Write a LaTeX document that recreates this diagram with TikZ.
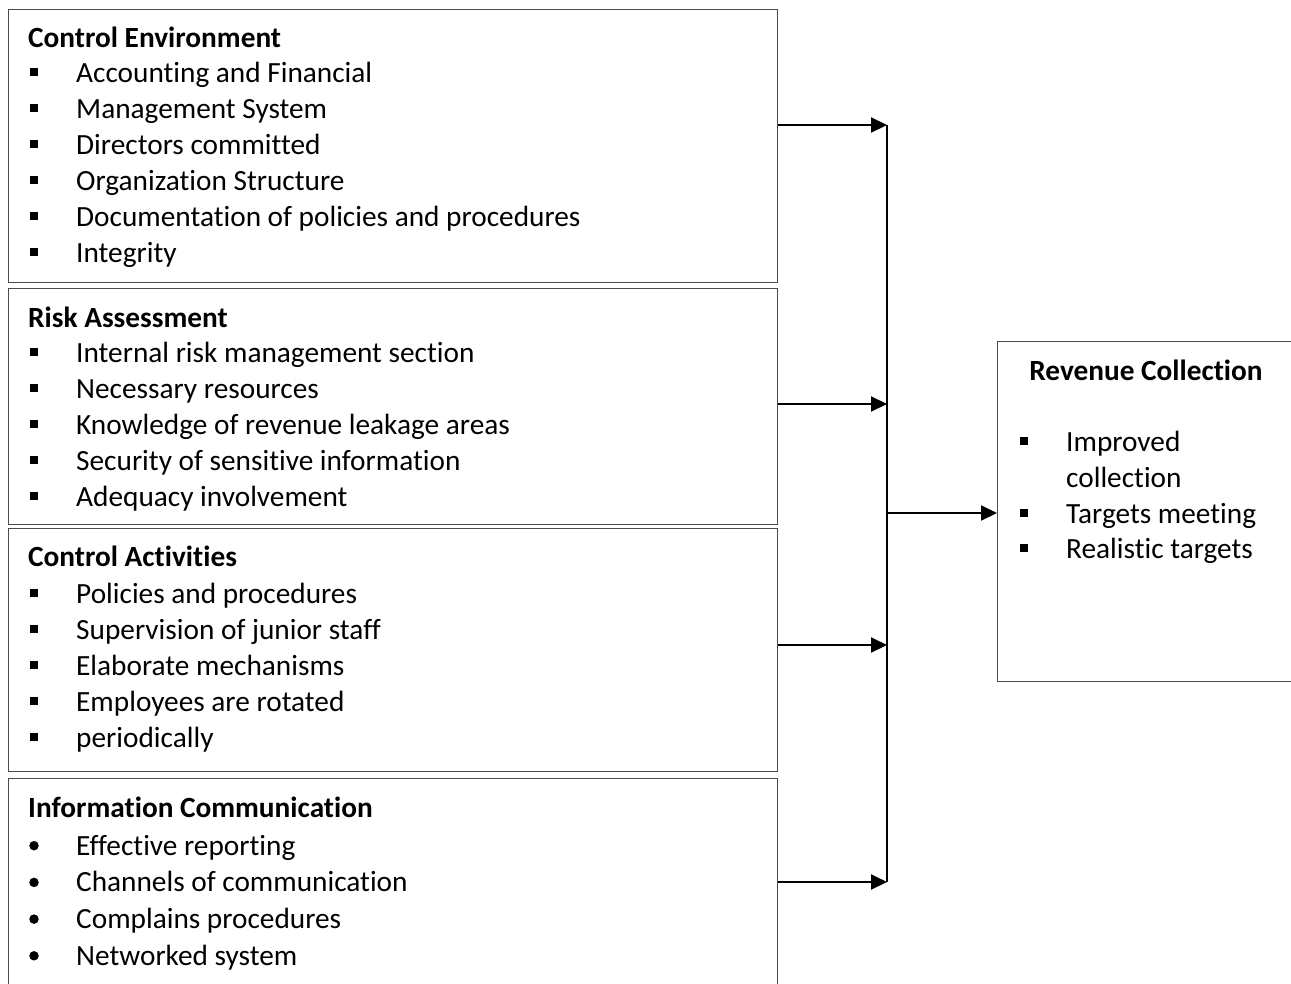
\documentclass[tikz,border=0pt]{standalone}
\usepackage{fontspec}
\setmainfont[Ligatures=NoCommon]{Carlito}
\usetikzlibrary{arrows.meta,positioning}
\newcommand{\bodysize}{\fontsize{29.3bp}{35bp}\selectfont}
\tikzset{
  panel/.style={draw=black!70, line width=1.4bp, anchor=north west, inner sep=0pt, minimum width=769bp},
  head/.style={anchor=mid west, inner sep=0pt, font=\bodysize\bfseries},
  item/.style={anchor=mid west, inner sep=0pt},
  sqbullet/.style={fill=black, minimum size=8bp, inner sep=0pt},
  dotbullet/.style={circle, fill=black, minimum size=9.5bp, inner sep=0pt},
  flow/.style={line width=2bp, -{Triangle[length=16bp,width=15bp]}},
  bus/.style={line width=2bp}
}
\begin{document}
\begin{tikzpicture}[x=1bp,y=-1bp,font=\bodysize]
  \useasboundingbox (0,0) rectangle (1291,984);
  \clip (0,0) rectangle (1291,984);
  %boxes
  \node[panel, minimum height=273bp] (env) at (8,9) {};
  \node[panel, minimum height=236bp] (risk) at (8,288) {};
  \node[panel, minimum height=243bp] (act) at (8,528) {};
  \node[panel, minimum height=220bp] (info) at (8,778) {};
  \node[panel, minimum width=300bp, minimum height=340bp] (rev) at (997,341) {};
  %control environment
  \node[head] (envT) at (28,45) {Control Environment};
  \foreach \txt [count=\i] in {Accounting and Financial, Management System,
      Directors committed, Organization Structure,
      Documentation of policies and procedures, Integrity}{
    \node[sqbullet] (envB\i) at (34,{36+36*\i}) {};
    \node[item] (envI\i) at (76,{44+36*\i}) {\txt};
  }
  %risk assessment
  \node[head] (riskT) at (28,325) {Risk Assessment};
  \foreach \txt [count=\i] in {Internal risk management section, Necessary resources,
      Knowledge of revenue leakage areas, Security of sensitive information,
      Adequacy involvement}{
    \node[sqbullet] (riskB\i) at (34,{316+36*\i}) {};
    \node[item] (riskI\i) at (76,{324+36*\i}) {\txt};
  }
  %control activities
  \node[head] (actT) at (28,564) {Control Activities};
  \foreach \txt [count=\i] in {Policies and procedures, Supervision of junior staff,
      Elaborate mechanisms, Employees are rotated, periodically}{
    \node[sqbullet] (actB\i) at (34,{557+36*\i}) {};
    \node[item] (actI\i) at (76,{565+36*\i}) {\txt};
  }
  %information communication
  \node[head] (infoT) at (28,815) {Information Communication};
  \foreach \txt [count=\i] in {Effective reporting, Channels of communication,
      Complains procedures, Networked system}{
    \node[dotbullet] (infoB\i) at (34,{809+36.7*\i}) {};
    \node[item] (infoI\i) at (76,{816+36.7*\i}) {\txt};
  }
  %revenue collection
  \node[anchor=mid, inner sep=0pt, font=\bodysize\bfseries] (revT) at (1146,378) {Revenue Collection};
  \node[sqbullet] (revB1) at (1024,441) {};
  \node[item] (revI1) at (1066,449) {Improved};
  \node[item] (revI1b) at (1066,485) {collection};
  \node[sqbullet] (revB2) at (1024,513) {};
  \node[item] (revI2) at (1066,521) {Targets meeting};
  \node[sqbullet] (revB3) at (1024,548) {};
  \node[item] (revI3) at (1066,556) {Realistic targets};
  %connectors
  \coordinate (hub1) at (887,125);
  \coordinate (hub2) at (887,404);
  \coordinate (hub3) at (887,645);
  \coordinate (hub4) at (887,882);
  \coordinate (hubR) at (887,513);
  \draw[bus] (hub1) -- (hub4);
  \draw[flow] (env.east |- hub1) -- (hub1);
  \draw[flow] (risk.east |- hub2) -- (hub2);
  \draw[flow] (act.east |- hub3) -- (hub3);
  \draw[flow] (info.east |- hub4) -- (hub4);
  \draw[flow] (hubR) -- (rev.west |- hubR);
\end{tikzpicture}
\end{document}
